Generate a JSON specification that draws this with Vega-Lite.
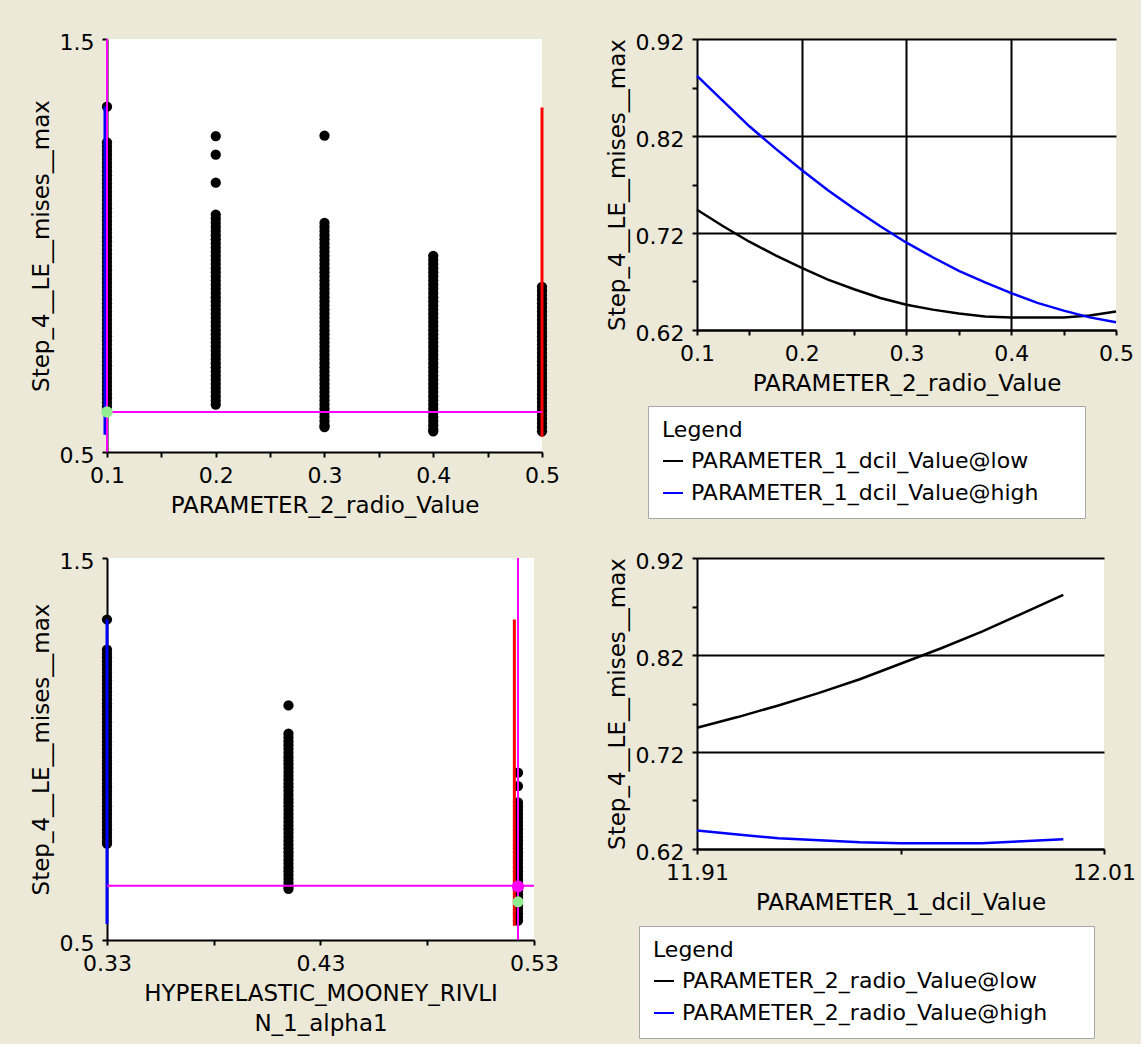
{
  "$schema": "https://vega.github.io/schema/vega-lite/v6.json",
  "background": "#ECE9D8",
  "padding": {"left": 30, "top": 31, "right": 5, "bottom": 5},
  "columns": 2,
  "bounds": "flush",
  "spacing": {"row": 106, "column": 155},
  "resolve": {"scale": {"color": "independent"}, "legend": {"color": "independent"}},
  "concat": [
    {
      "width": 435,
      "height": 413,
      "layer": [
        {
          "data": {"values": [
            {"radio":0.1,"mises":1.336},{"radio":0.1,"mises":1.25},{"radio":0.1,"mises":1.24},{"radio":0.1,"mises":1.23},{"radio":0.1,"mises":1.22},{"radio":0.1,"mises":1.21},{"radio":0.1,"mises":1.2},{"radio":0.1,"mises":1.19},{"radio":0.1,"mises":1.18},{"radio":0.1,"mises":1.17},{"radio":0.1,"mises":1.16},{"radio":0.1,"mises":1.15},{"radio":0.1,"mises":1.14},{"radio":0.1,"mises":1.13},{"radio":0.1,"mises":1.12},{"radio":0.1,"mises":1.11},{"radio":0.1,"mises":1.1},{"radio":0.1,"mises":1.09},{"radio":0.1,"mises":1.08},{"radio":0.1,"mises":1.07},{"radio":0.1,"mises":1.06},{"radio":0.1,"mises":1.05},{"radio":0.1,"mises":1.04},{"radio":0.1,"mises":1.03},{"radio":0.1,"mises":1.02},{"radio":0.1,"mises":1.01},{"radio":0.1,"mises":1.0},{"radio":0.1,"mises":0.99},{"radio":0.1,"mises":0.98},{"radio":0.1,"mises":0.97},{"radio":0.1,"mises":0.96},{"radio":0.1,"mises":0.95},{"radio":0.1,"mises":0.94},{"radio":0.1,"mises":0.93},{"radio":0.1,"mises":0.92},{"radio":0.1,"mises":0.91},{"radio":0.1,"mises":0.9},{"radio":0.1,"mises":0.89},{"radio":0.1,"mises":0.88},{"radio":0.1,"mises":0.87},{"radio":0.1,"mises":0.86},{"radio":0.1,"mises":0.85},{"radio":0.1,"mises":0.84},{"radio":0.1,"mises":0.83},{"radio":0.1,"mises":0.82},{"radio":0.1,"mises":0.81},{"radio":0.1,"mises":0.8},{"radio":0.1,"mises":0.79},{"radio":0.1,"mises":0.78},{"radio":0.1,"mises":0.77},{"radio":0.1,"mises":0.76},{"radio":0.1,"mises":0.75},{"radio":0.1,"mises":0.74},{"radio":0.1,"mises":0.73},{"radio":0.1,"mises":0.72},{"radio":0.1,"mises":0.71},{"radio":0.1,"mises":0.7},{"radio":0.1,"mises":0.69},{"radio":0.1,"mises":0.68},{"radio":0.1,"mises":0.67},{"radio":0.1,"mises":0.66},{"radio":0.1,"mises":0.65},{"radio":0.1,"mises":0.64},{"radio":0.1,"mises":0.63},{"radio":0.1,"mises":0.62},{"radio":0.1,"mises":0.61},
            {"radio":0.2,"mises":1.265},{"radio":0.2,"mises":1.22},{"radio":0.2,"mises":1.152},{"radio":0.2,"mises":1.075},{"radio":0.2,"mises":1.065},{"radio":0.2,"mises":1.055},{"radio":0.2,"mises":1.045},{"radio":0.2,"mises":1.035},{"radio":0.2,"mises":1.025},{"radio":0.2,"mises":1.015},{"radio":0.2,"mises":1.005},{"radio":0.2,"mises":0.995},{"radio":0.2,"mises":0.985},{"radio":0.2,"mises":0.975},{"radio":0.2,"mises":0.965},{"radio":0.2,"mises":0.955},{"radio":0.2,"mises":0.945},{"radio":0.2,"mises":0.935},{"radio":0.2,"mises":0.925},{"radio":0.2,"mises":0.915},{"radio":0.2,"mises":0.905},{"radio":0.2,"mises":0.895},{"radio":0.2,"mises":0.885},{"radio":0.2,"mises":0.875},{"radio":0.2,"mises":0.865},{"radio":0.2,"mises":0.855},{"radio":0.2,"mises":0.845},{"radio":0.2,"mises":0.835},{"radio":0.2,"mises":0.825},{"radio":0.2,"mises":0.815},{"radio":0.2,"mises":0.805},{"radio":0.2,"mises":0.795},{"radio":0.2,"mises":0.785},{"radio":0.2,"mises":0.775},{"radio":0.2,"mises":0.765},{"radio":0.2,"mises":0.755},{"radio":0.2,"mises":0.745},{"radio":0.2,"mises":0.735},{"radio":0.2,"mises":0.725},{"radio":0.2,"mises":0.715},{"radio":0.2,"mises":0.705},{"radio":0.2,"mises":0.695},{"radio":0.2,"mises":0.685},{"radio":0.2,"mises":0.675},{"radio":0.2,"mises":0.665},{"radio":0.2,"mises":0.655},{"radio":0.2,"mises":0.645},{"radio":0.2,"mises":0.635},{"radio":0.2,"mises":0.625},{"radio":0.2,"mises":0.615},
            {"radio":0.3,"mises":1.266},{"radio":0.3,"mises":1.055},{"radio":0.3,"mises":1.045},{"radio":0.3,"mises":1.035},{"radio":0.3,"mises":1.025},{"radio":0.3,"mises":1.015},{"radio":0.3,"mises":1.005},{"radio":0.3,"mises":0.995},{"radio":0.3,"mises":0.985},{"radio":0.3,"mises":0.975},{"radio":0.3,"mises":0.965},{"radio":0.3,"mises":0.955},{"radio":0.3,"mises":0.945},{"radio":0.3,"mises":0.935},{"radio":0.3,"mises":0.925},{"radio":0.3,"mises":0.915},{"radio":0.3,"mises":0.905},{"radio":0.3,"mises":0.895},{"radio":0.3,"mises":0.885},{"radio":0.3,"mises":0.875},{"radio":0.3,"mises":0.865},{"radio":0.3,"mises":0.855},{"radio":0.3,"mises":0.845},{"radio":0.3,"mises":0.835},{"radio":0.3,"mises":0.825},{"radio":0.3,"mises":0.815},{"radio":0.3,"mises":0.805},{"radio":0.3,"mises":0.795},{"radio":0.3,"mises":0.785},{"radio":0.3,"mises":0.775},{"radio":0.3,"mises":0.765},{"radio":0.3,"mises":0.755},{"radio":0.3,"mises":0.745},{"radio":0.3,"mises":0.735},{"radio":0.3,"mises":0.725},{"radio":0.3,"mises":0.715},{"radio":0.3,"mises":0.705},{"radio":0.3,"mises":0.695},{"radio":0.3,"mises":0.685},{"radio":0.3,"mises":0.675},{"radio":0.3,"mises":0.665},{"radio":0.3,"mises":0.655},{"radio":0.3,"mises":0.645},{"radio":0.3,"mises":0.635},{"radio":0.3,"mises":0.625},{"radio":0.3,"mises":0.615},{"radio":0.3,"mises":0.605},{"radio":0.3,"mises":0.595},{"radio":0.3,"mises":0.585},{"radio":0.3,"mises":0.575},{"radio":0.3,"mises":0.565},{"radio":0.3,"mises":0.56},
            {"radio":0.4,"mises":0.975},{"radio":0.4,"mises":0.965},{"radio":0.4,"mises":0.955},{"radio":0.4,"mises":0.945},{"radio":0.4,"mises":0.935},{"radio":0.4,"mises":0.925},{"radio":0.4,"mises":0.915},{"radio":0.4,"mises":0.905},{"radio":0.4,"mises":0.895},{"radio":0.4,"mises":0.885},{"radio":0.4,"mises":0.875},{"radio":0.4,"mises":0.865},{"radio":0.4,"mises":0.855},{"radio":0.4,"mises":0.845},{"radio":0.4,"mises":0.835},{"radio":0.4,"mises":0.825},{"radio":0.4,"mises":0.815},{"radio":0.4,"mises":0.805},{"radio":0.4,"mises":0.795},{"radio":0.4,"mises":0.785},{"radio":0.4,"mises":0.775},{"radio":0.4,"mises":0.765},{"radio":0.4,"mises":0.755},{"radio":0.4,"mises":0.745},{"radio":0.4,"mises":0.735},{"radio":0.4,"mises":0.725},{"radio":0.4,"mises":0.715},{"radio":0.4,"mises":0.705},{"radio":0.4,"mises":0.695},{"radio":0.4,"mises":0.685},{"radio":0.4,"mises":0.675},{"radio":0.4,"mises":0.665},{"radio":0.4,"mises":0.655},{"radio":0.4,"mises":0.645},{"radio":0.4,"mises":0.635},{"radio":0.4,"mises":0.625},{"radio":0.4,"mises":0.615},{"radio":0.4,"mises":0.605},{"radio":0.4,"mises":0.595},{"radio":0.4,"mises":0.585},{"radio":0.4,"mises":0.575},{"radio":0.4,"mises":0.565},{"radio":0.4,"mises":0.555},{"radio":0.4,"mises":0.55},
            {"radio":0.5,"mises":0.9},{"radio":0.5,"mises":0.89},{"radio":0.5,"mises":0.88},{"radio":0.5,"mises":0.87},{"radio":0.5,"mises":0.86},{"radio":0.5,"mises":0.85},{"radio":0.5,"mises":0.84},{"radio":0.5,"mises":0.83},{"radio":0.5,"mises":0.82},{"radio":0.5,"mises":0.81},{"radio":0.5,"mises":0.8},{"radio":0.5,"mises":0.79},{"radio":0.5,"mises":0.78},{"radio":0.5,"mises":0.77},{"radio":0.5,"mises":0.76},{"radio":0.5,"mises":0.75},{"radio":0.5,"mises":0.74},{"radio":0.5,"mises":0.73},{"radio":0.5,"mises":0.72},{"radio":0.5,"mises":0.71},{"radio":0.5,"mises":0.7},{"radio":0.5,"mises":0.69},{"radio":0.5,"mises":0.68},{"radio":0.5,"mises":0.67},{"radio":0.5,"mises":0.66},{"radio":0.5,"mises":0.65},{"radio":0.5,"mises":0.64},{"radio":0.5,"mises":0.63},{"radio":0.5,"mises":0.62},{"radio":0.5,"mises":0.61},{"radio":0.5,"mises":0.6},{"radio":0.5,"mises":0.59},{"radio":0.5,"mises":0.58},{"radio":0.5,"mises":0.57},{"radio":0.5,"mises":0.56},{"radio":0.5,"mises":0.55}
          ]},
          "mark": {"type": "circle", "size": 105, "color": "#000000", "opacity": 1},
          "encoding": {
            "x": {"field": "radio", "type": "quantitative", "scale": {"domain": [0.1, 0.5], "nice": false, "zero": false},
              "axis": {"title": "PARAMETER_2_radio_Value", "values": [0.1,0.15,0.2,0.25,0.3,0.35,0.4,0.45,0.5],
                "labelExpr": "abs(datum.value*10 - round(datum.value*10)) < 0.001 ? format(datum.value, '.1f') : ''"}},
            "y": {"field": "mises", "type": "quantitative", "scale": {"domain": [0.5, 1.5], "nice": false, "zero": false},
              "axis": {"title": "Step_4__LE__mises__max", "values": [0.5, 1.5], "format": ".1f"}}
          }
        },
        {
          "data": {"values": [{"radio": 0.1, "mises": 0.542, "mises_top": 1.337}]},
          "mark": {"type": "rule", "color": "#0000FF", "strokeWidth": 3, "xOffset": -2},
          "encoding": {"x": {"field": "radio", "type": "quantitative"}, "y": {"field": "mises", "type": "quantitative"}, "y2": {"field": "mises_top"}}
        },
        {
          "data": {"values": [{"radio": 0.5, "mises": 0.537, "mises_top": 1.334}]},
          "mark": {"type": "rule", "color": "#FF0000", "strokeWidth": 3},
          "encoding": {"x": {"field": "radio", "type": "quantitative"}, "y": {"field": "mises", "type": "quantitative"}, "y2": {"field": "mises_top"}}
        },
        {
          "data": {"values": [{"radio": 0.1, "radio_end": 0.5, "mises": 0.597}]},
          "mark": {"type": "rule", "color": "#FF00FF", "strokeWidth": 2},
          "encoding": {"x": {"field": "radio", "type": "quantitative"}, "x2": {"field": "radio_end"}, "y": {"field": "mises", "type": "quantitative"}}
        },
        {
          "data": {"values": [{"radio": 0.1, "mises": 0.5, "mises_top": 1.5}]},
          "mark": {"type": "rule", "color": "#FF00FF", "strokeWidth": 2},
          "encoding": {"x": {"field": "radio", "type": "quantitative"}, "y": {"field": "mises", "type": "quantitative"}, "y2": {"field": "mises_top"}}
        },
        {
          "data": {"values": [{"radio": 0.1, "mises": 0.597}]},
          "mark": {"type": "circle", "size": 130, "color": "#90EE90", "opacity": 1},
          "encoding": {"x": {"field": "radio", "type": "quantitative"}, "y": {"field": "mises", "type": "quantitative"}}
        }
      ]
    },
    {
      "width": 419,
      "height": 291,
      "data": {"values": [
        {"radio":0.1,"mises":0.744,"series":"PARAMETER_1_dcil_Value@low"},
        {"radio":0.125,"mises":0.727,"series":"PARAMETER_1_dcil_Value@low"},
        {"radio":0.15,"mises":0.711,"series":"PARAMETER_1_dcil_Value@low"},
        {"radio":0.175,"mises":0.697,"series":"PARAMETER_1_dcil_Value@low"},
        {"radio":0.2,"mises":0.684,"series":"PARAMETER_1_dcil_Value@low"},
        {"radio":0.225,"mises":0.672,"series":"PARAMETER_1_dcil_Value@low"},
        {"radio":0.25,"mises":0.662,"series":"PARAMETER_1_dcil_Value@low"},
        {"radio":0.275,"mises":0.653,"series":"PARAMETER_1_dcil_Value@low"},
        {"radio":0.3,"mises":0.646,"series":"PARAMETER_1_dcil_Value@low"},
        {"radio":0.325,"mises":0.641,"series":"PARAMETER_1_dcil_Value@low"},
        {"radio":0.35,"mises":0.637,"series":"PARAMETER_1_dcil_Value@low"},
        {"radio":0.375,"mises":0.634,"series":"PARAMETER_1_dcil_Value@low"},
        {"radio":0.4,"mises":0.633,"series":"PARAMETER_1_dcil_Value@low"},
        {"radio":0.425,"mises":0.633,"series":"PARAMETER_1_dcil_Value@low"},
        {"radio":0.45,"mises":0.633,"series":"PARAMETER_1_dcil_Value@low"},
        {"radio":0.475,"mises":0.635,"series":"PARAMETER_1_dcil_Value@low"},
        {"radio":0.5,"mises":0.639,"series":"PARAMETER_1_dcil_Value@low"},
        {"radio":0.1,"mises":0.882,"series":"PARAMETER_1_dcil_Value@high"},
        {"radio":0.125,"mises":0.856,"series":"PARAMETER_1_dcil_Value@high"},
        {"radio":0.15,"mises":0.83,"series":"PARAMETER_1_dcil_Value@high"},
        {"radio":0.175,"mises":0.807,"series":"PARAMETER_1_dcil_Value@high"},
        {"radio":0.2,"mises":0.785,"series":"PARAMETER_1_dcil_Value@high"},
        {"radio":0.225,"mises":0.764,"series":"PARAMETER_1_dcil_Value@high"},
        {"radio":0.25,"mises":0.745,"series":"PARAMETER_1_dcil_Value@high"},
        {"radio":0.275,"mises":0.727,"series":"PARAMETER_1_dcil_Value@high"},
        {"radio":0.3,"mises":0.71,"series":"PARAMETER_1_dcil_Value@high"},
        {"radio":0.325,"mises":0.695,"series":"PARAMETER_1_dcil_Value@high"},
        {"radio":0.35,"mises":0.681,"series":"PARAMETER_1_dcil_Value@high"},
        {"radio":0.375,"mises":0.669,"series":"PARAMETER_1_dcil_Value@high"},
        {"radio":0.4,"mises":0.658,"series":"PARAMETER_1_dcil_Value@high"},
        {"radio":0.425,"mises":0.648,"series":"PARAMETER_1_dcil_Value@high"},
        {"radio":0.45,"mises":0.64,"series":"PARAMETER_1_dcil_Value@high"},
        {"radio":0.475,"mises":0.633,"series":"PARAMETER_1_dcil_Value@high"},
        {"radio":0.5,"mises":0.628,"series":"PARAMETER_1_dcil_Value@high"}
      ]},
      "mark": {"type": "line", "strokeWidth": 2.5},
      "encoding": {
        "x": {"field": "radio", "type": "quantitative", "scale": {"domain": [0.1, 0.5], "nice": false, "zero": false},
          "axis": {"title": "PARAMETER_2_radio_Value", "values": [0.1,0.15,0.2,0.25,0.3,0.35,0.4,0.45,0.5], "grid": true,
            "labelExpr": "abs(datum.value*10 - round(datum.value*10)) < 0.001 ? format(datum.value, '.1f') : ''",
            "gridOpacity": {"condition": {"test": "datum.value > 0.15 && datum.value < 0.45 && abs(datum.value*10 - round(datum.value*10)) < 0.001", "value": 1}, "value": 0}}},
        "y": {"field": "mises", "type": "quantitative", "scale": {"domain": [0.62, 0.92], "nice": false, "zero": false},
          "axis": {"title": "Step_4__LE__mises__max", "values": [0.62,0.67,0.72,0.77,0.82,0.87,0.92], "grid": true,
            "labelExpr": "abs((datum.value-0.62)*10 - round((datum.value-0.62)*10)) < 0.001 ? format(datum.value, '.2f') : ''",
            "gridOpacity": {"condition": {"test": "abs((datum.value-0.62)*10 - round((datum.value-0.62)*10)) < 0.001", "value": 1}, "value": 0}}},
        "color": {"field": "series", "type": "nominal",
          "scale": {"domain": ["PARAMETER_1_dcil_Value@low", "PARAMETER_1_dcil_Value@high"], "range": ["#000000", "#0000FF"]},
          "legend": {"title": "Legend", "orient": "none", "legendX": -49, "legendY": 367,
            "labelExpr": "datum.label + '\u2800\u2800'"}}
      }
    },
    {
      "width": 427,
      "height": 382,
      "layer": [
        {
          "data": {"values": [
            {"alpha1":0.33,"mises":1.339},{"alpha1":0.33,"mises":1.26},{"alpha1":0.33,"mises":1.25},{"alpha1":0.33,"mises":1.24},{"alpha1":0.33,"mises":1.23},{"alpha1":0.33,"mises":1.22},{"alpha1":0.33,"mises":1.21},{"alpha1":0.33,"mises":1.2},{"alpha1":0.33,"mises":1.19},{"alpha1":0.33,"mises":1.18},{"alpha1":0.33,"mises":1.17},{"alpha1":0.33,"mises":1.16},{"alpha1":0.33,"mises":1.15},{"alpha1":0.33,"mises":1.14},{"alpha1":0.33,"mises":1.13},{"alpha1":0.33,"mises":1.12},{"alpha1":0.33,"mises":1.11},{"alpha1":0.33,"mises":1.1},{"alpha1":0.33,"mises":1.09},{"alpha1":0.33,"mises":1.08},{"alpha1":0.33,"mises":1.07},{"alpha1":0.33,"mises":1.06},{"alpha1":0.33,"mises":1.05},{"alpha1":0.33,"mises":1.04},{"alpha1":0.33,"mises":1.03},{"alpha1":0.33,"mises":1.02},{"alpha1":0.33,"mises":1.01},{"alpha1":0.33,"mises":1.0},{"alpha1":0.33,"mises":0.99},{"alpha1":0.33,"mises":0.98},{"alpha1":0.33,"mises":0.97},{"alpha1":0.33,"mises":0.96},{"alpha1":0.33,"mises":0.95},{"alpha1":0.33,"mises":0.94},{"alpha1":0.33,"mises":0.93},{"alpha1":0.33,"mises":0.92},{"alpha1":0.33,"mises":0.91},{"alpha1":0.33,"mises":0.9},{"alpha1":0.33,"mises":0.89},{"alpha1":0.33,"mises":0.88},{"alpha1":0.33,"mises":0.87},{"alpha1":0.33,"mises":0.86},{"alpha1":0.33,"mises":0.85},{"alpha1":0.33,"mises":0.84},{"alpha1":0.33,"mises":0.83},{"alpha1":0.33,"mises":0.82},{"alpha1":0.33,"mises":0.81},{"alpha1":0.33,"mises":0.8},{"alpha1":0.33,"mises":0.79},{"alpha1":0.33,"mises":0.78},{"alpha1":0.33,"mises":0.77},{"alpha1":0.33,"mises":0.76},{"alpha1":0.33,"mises":0.752},
            {"alpha1":0.415,"mises":1.114},{"alpha1":0.415,"mises":1.04},{"alpha1":0.415,"mises":1.03},{"alpha1":0.415,"mises":1.02},{"alpha1":0.415,"mises":1.01},{"alpha1":0.415,"mises":1.0},{"alpha1":0.415,"mises":0.99},{"alpha1":0.415,"mises":0.98},{"alpha1":0.415,"mises":0.97},{"alpha1":0.415,"mises":0.96},{"alpha1":0.415,"mises":0.95},{"alpha1":0.415,"mises":0.94},{"alpha1":0.415,"mises":0.93},{"alpha1":0.415,"mises":0.92},{"alpha1":0.415,"mises":0.91},{"alpha1":0.415,"mises":0.9},{"alpha1":0.415,"mises":0.89},{"alpha1":0.415,"mises":0.88},{"alpha1":0.415,"mises":0.87},{"alpha1":0.415,"mises":0.86},{"alpha1":0.415,"mises":0.85},{"alpha1":0.415,"mises":0.84},{"alpha1":0.415,"mises":0.83},{"alpha1":0.415,"mises":0.82},{"alpha1":0.415,"mises":0.81},{"alpha1":0.415,"mises":0.8},{"alpha1":0.415,"mises":0.79},{"alpha1":0.415,"mises":0.78},{"alpha1":0.415,"mises":0.77},{"alpha1":0.415,"mises":0.76},{"alpha1":0.415,"mises":0.75},{"alpha1":0.415,"mises":0.74},{"alpha1":0.415,"mises":0.73},{"alpha1":0.415,"mises":0.72},{"alpha1":0.415,"mises":0.71},{"alpha1":0.415,"mises":0.7},{"alpha1":0.415,"mises":0.69},{"alpha1":0.415,"mises":0.68},{"alpha1":0.415,"mises":0.67},{"alpha1":0.415,"mises":0.66},{"alpha1":0.415,"mises":0.65},{"alpha1":0.415,"mises":0.64},{"alpha1":0.415,"mises":0.634},
            {"alpha1":0.5225,"mises":0.938},{"alpha1":0.5225,"mises":0.903},{"alpha1":0.5225,"mises":0.86},{"alpha1":0.5225,"mises":0.85},{"alpha1":0.5225,"mises":0.84},{"alpha1":0.5225,"mises":0.83},{"alpha1":0.5225,"mises":0.82},{"alpha1":0.5225,"mises":0.81},{"alpha1":0.5225,"mises":0.8},{"alpha1":0.5225,"mises":0.79},{"alpha1":0.5225,"mises":0.78},{"alpha1":0.5225,"mises":0.77},{"alpha1":0.5225,"mises":0.76},{"alpha1":0.5225,"mises":0.75},{"alpha1":0.5225,"mises":0.74},{"alpha1":0.5225,"mises":0.73},{"alpha1":0.5225,"mises":0.72},{"alpha1":0.5225,"mises":0.71},{"alpha1":0.5225,"mises":0.7},{"alpha1":0.5225,"mises":0.69},{"alpha1":0.5225,"mises":0.68},{"alpha1":0.5225,"mises":0.67},{"alpha1":0.5225,"mises":0.66},{"alpha1":0.5225,"mises":0.65},{"alpha1":0.5225,"mises":0.64},{"alpha1":0.5225,"mises":0.63},{"alpha1":0.5225,"mises":0.62},{"alpha1":0.5225,"mises":0.61},{"alpha1":0.5225,"mises":0.6},{"alpha1":0.5225,"mises":0.59},{"alpha1":0.5225,"mises":0.58},{"alpha1":0.5225,"mises":0.57},{"alpha1":0.5225,"mises":0.56},{"alpha1":0.5225,"mises":0.551}
          ]},
          "mark": {"type": "circle", "size": 105, "color": "#000000", "opacity": 1},
          "encoding": {
            "x": {"field": "alpha1", "type": "quantitative", "scale": {"domain": [0.33, 0.53], "nice": false, "zero": false},
              "axis": {"title": ["HYPERELASTIC_MOONEY_RIVLI", "N_1_alpha1"], "titleLineHeight": 30, "values": [0.33,0.38,0.43,0.48,0.53],
                "labelExpr": "abs((datum.value-0.33)*10 - round((datum.value-0.33)*10)) < 0.001 ? format(datum.value, '.2f') : ''"}},
            "y": {"field": "mises", "type": "quantitative", "scale": {"domain": [0.5, 1.5], "nice": false, "zero": false},
              "axis": {"title": "Step_4__LE__mises__max", "values": [0.5, 1.5], "format": ".1f"}}
          }
        },
        {
          "data": {"values": [{"alpha1": 0.33, "mises": 0.542, "mises_top": 1.339}]},
          "mark": {"type": "rule", "color": "#0000FF", "strokeWidth": 3},
          "encoding": {"x": {"field": "alpha1", "type": "quantitative"}, "y": {"field": "mises", "type": "quantitative"}, "y2": {"field": "mises_top"}}
        },
        {
          "data": {"values": [{"alpha1": 0.5208, "mises": 0.537, "mises_top": 1.339}]},
          "mark": {"type": "rule", "color": "#FF0000", "strokeWidth": 3},
          "encoding": {"x": {"field": "alpha1", "type": "quantitative"}, "y": {"field": "mises", "type": "quantitative"}, "y2": {"field": "mises_top"}}
        },
        {
          "data": {"values": [{"alpha1": 0.33, "alpha1_end": 0.53, "mises": 0.642}]},
          "mark": {"type": "rule", "color": "#FF00FF", "strokeWidth": 2},
          "encoding": {"x": {"field": "alpha1", "type": "quantitative"}, "x2": {"field": "alpha1_end"}, "y": {"field": "mises", "type": "quantitative"}}
        },
        {
          "data": {"values": [{"alpha1": 0.5225, "mises": 0.5, "mises_top": 1.5}]},
          "mark": {"type": "rule", "color": "#FF00FF", "strokeWidth": 2},
          "encoding": {"x": {"field": "alpha1", "type": "quantitative"}, "y": {"field": "mises", "type": "quantitative"}, "y2": {"field": "mises_top"}}
        },
        {
          "data": {"values": [{"alpha1": 0.5225, "mises": 0.64}]},
          "mark": {"type": "circle", "size": 150, "color": "#FF00FF", "opacity": 1},
          "encoding": {"x": {"field": "alpha1", "type": "quantitative"}, "y": {"field": "mises", "type": "quantitative"}}
        },
        {
          "data": {"values": [{"alpha1": 0.5225, "mises": 0.6}]},
          "mark": {"type": "circle", "size": 120, "color": "#90EE90", "opacity": 1},
          "encoding": {"x": {"field": "alpha1", "type": "quantitative"}, "y": {"field": "mises", "type": "quantitative"}}
        }
      ]
    },
    {
      "width": 407,
      "height": 291,
      "data": {"values": [
        {"dcil":11.91,"mises":0.745,"series":"PARAMETER_2_radio_Value@low"},
        {"dcil":11.92,"mises":0.756,"series":"PARAMETER_2_radio_Value@low"},
        {"dcil":11.93,"mises":0.768,"series":"PARAMETER_2_radio_Value@low"},
        {"dcil":11.94,"mises":0.781,"series":"PARAMETER_2_radio_Value@low"},
        {"dcil":11.95,"mises":0.795,"series":"PARAMETER_2_radio_Value@low"},
        {"dcil":11.96,"mises":0.811,"series":"PARAMETER_2_radio_Value@low"},
        {"dcil":11.97,"mises":0.827,"series":"PARAMETER_2_radio_Value@low"},
        {"dcil":11.98,"mises":0.844,"series":"PARAMETER_2_radio_Value@low"},
        {"dcil":11.99,"mises":0.863,"series":"PARAMETER_2_radio_Value@low"},
        {"dcil":12.0,"mises":0.882,"series":"PARAMETER_2_radio_Value@low"},
        {"dcil":11.91,"mises":0.639,"series":"PARAMETER_2_radio_Value@high"},
        {"dcil":11.92,"mises":0.635,"series":"PARAMETER_2_radio_Value@high"},
        {"dcil":11.93,"mises":0.631,"series":"PARAMETER_2_radio_Value@high"},
        {"dcil":11.94,"mises":0.629,"series":"PARAMETER_2_radio_Value@high"},
        {"dcil":11.95,"mises":0.627,"series":"PARAMETER_2_radio_Value@high"},
        {"dcil":11.96,"mises":0.626,"series":"PARAMETER_2_radio_Value@high"},
        {"dcil":11.97,"mises":0.626,"series":"PARAMETER_2_radio_Value@high"},
        {"dcil":11.98,"mises":0.626,"series":"PARAMETER_2_radio_Value@high"},
        {"dcil":11.99,"mises":0.628,"series":"PARAMETER_2_radio_Value@high"},
        {"dcil":12.0,"mises":0.63,"series":"PARAMETER_2_radio_Value@high"}
      ]},
      "mark": {"type": "line", "strokeWidth": 2.5},
      "encoding": {
        "x": {"field": "dcil", "type": "quantitative", "scale": {"domain": [11.91, 12.01], "nice": false, "zero": false},
          "axis": {"title": "PARAMETER_1_dcil_Value", "values": [11.91, 11.96, 12.01],
            "labelExpr": "abs(datum.value - 11.96) > 0.001 ? format(datum.value, '.2f') : ''"}},
        "y": {"field": "mises", "type": "quantitative", "scale": {"domain": [0.62, 0.92], "nice": false, "zero": false},
          "axis": {"title": "Step_4__LE__mises__max", "values": [0.62,0.67,0.72,0.77,0.82,0.87,0.92], "grid": true,
            "labelExpr": "abs((datum.value-0.62)*10 - round((datum.value-0.62)*10)) < 0.001 ? format(datum.value, '.2f') : ''",
            "gridOpacity": {"condition": {"test": "abs((datum.value-0.62)*10 - round((datum.value-0.62)*10)) < 0.001", "value": 1}, "value": 0}}},
        "color": {"field": "series", "type": "nominal",
          "scale": {"domain": ["PARAMETER_2_radio_Value@low", "PARAMETER_2_radio_Value@high"], "range": ["#000000", "#0000FF"]},
          "legend": {"title": "Legend", "orient": "none", "legendX": -58, "legendY": 368,
            "labelExpr": "datum.label + '\u2800\u2800'"}}
      }
    }
  ],
  "config": {
    "font": "DejaVu Sans",
    "view": {"fill": "#FFFFFF", "stroke": null},
    "axis": {
      "labelFont": "DejaVu Sans", "titleFont": "DejaVu Sans",
      "labelFontSize": 22, "titleFontSize": 23, "titleFontWeight": "normal",
      "labelColor": "#000000", "titleColor": "#000000",
      "domainColor": "#000000", "domainWidth": 2,
      "tickColor": "#000000", "tickWidth": 2, "tickSize": 5,
      "gridColor": "#000000", "gridWidth": 2,
      "labelFlush": false, "labelOverlap": false,
      "labelPadding": 8, "titlePadding": 8, "grid": false
    },
    "axisY": {"labelOffset": 3, "titlePadding": 6},
    "legend": {
      "labelFont": "DejaVu Sans", "titleFont": "DejaVu Sans",
      "labelFontSize": 22, "titleFontSize": 22, "titleFontWeight": "normal",
      "labelColor": "#000000", "titleColor": "#000000",
      "symbolType": "stroke", "symbolStrokeWidth": 2, "symbolSize": 400,
      "fillColor": "#FFFFFF", "strokeColor": "#A8A8A8", "padding": 14,
      "rowPadding": 10, "labelOffset": 7, "titlePadding": 8, "labelLimit": 0, "titleLimit": 0
    }
  }
}
